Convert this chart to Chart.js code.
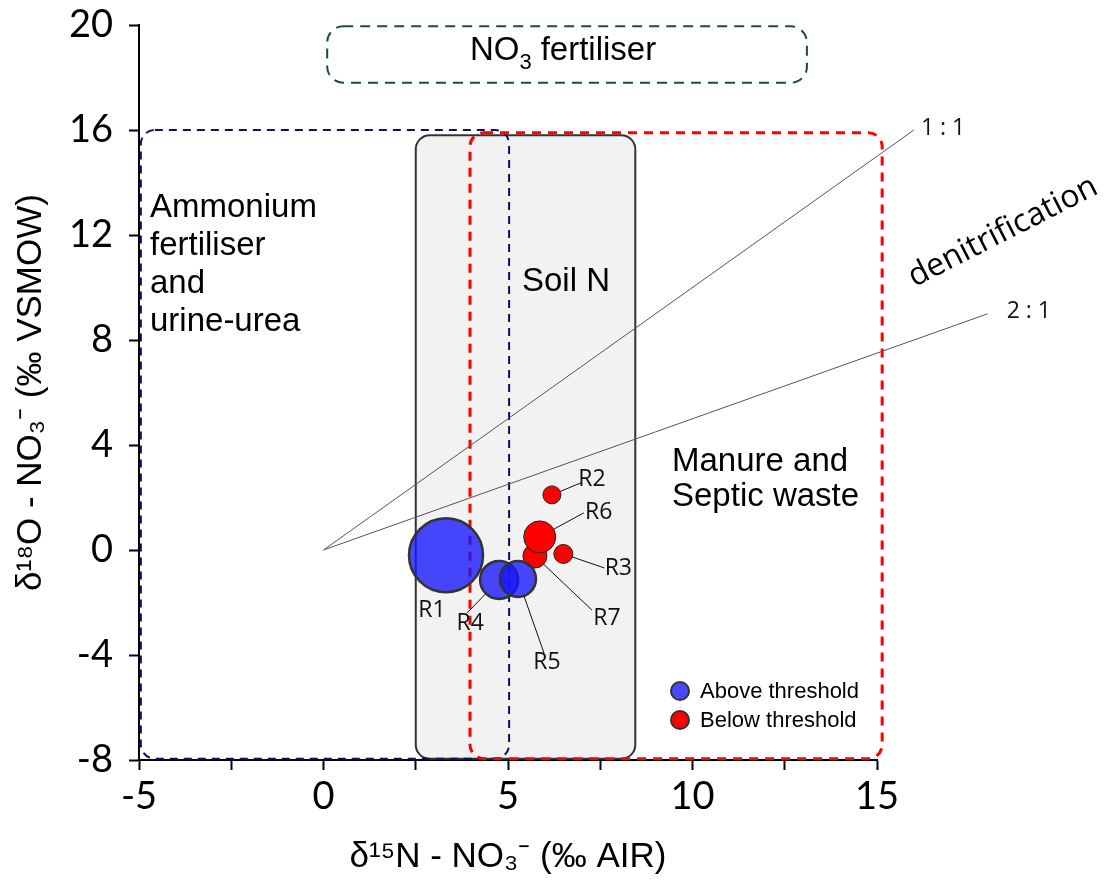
<!DOCTYPE html>
<html>
<head>
<meta charset="utf-8">
<script src="https://cdn.jsdelivr.net/npm/chart.js@4.4.1/dist/chart.umd.min.js"></script>
<style>
  html, body { margin: 0; padding: 0; background: #fff; }
</style>
</head>
<body>
<canvas id="chart" width="1105" height="884"></canvas>
<script>
// sample points (d15N, d18O) and bubble size
const aboveNames = ['R1', 'R4', 'R5'];
const aboveN = [3.32, 4.76, 5.27];
const aboveO = [-0.2, -1.14, -1.1];
const aboveSize = [37, 19, 18];

const belowNames = ['R2', 'R3', 'R7', 'R6'];
const belowN = [6.19, 6.5, 5.73, 5.86];
const belowO = [2.1, -0.15, -0.23, 0.5];
const belowSize = [9, 9.5, 12, 16];

// denitrification slopes
const slopeNames = ['1 : 1', '2 : 1'];
const slopeEndN = [16, 18];
const slopeEndO = [16, 9];

const xTicks = [-5, 0, 5, 10, 15];
const yTicks = [-8, -4, 0, 4, 8, 12, 16, 20];

// source fields, in axis units: [xMin, xMax, yMin, yMax]
const soilBox = [2.5, 8.45, -7.95, 15.8];
const ammoniumBox = [-4.95, 5.03, -7.95, 16];
const manureBox = [3.97, 15.14, -7.95, 15.9];
const no3Box = [0.1, 13.1, 17.8, 19.95];

// label placement around each bubble (pixel offset of text, offset of leader end or null)
const labelPlace = {
  R1: { text: [-14, 55], lead: null },
  R4: { text: [-29, 44], lead: [-32, 33] },
  R5: { text: [29, 84], lead: [26, 74] },
  R7: { text: [72, 62], lead: [57, 54] },
  R3: { text: [55, 15], lead: [41, 14] },
  R6: { text: [59, -24], lead: [44, -24] },
  R2: { text: [40, -15], lead: [29, -12] }
};

function toPoints(xs, ys, rs, names) {
  return xs.map((v, i) => ({ x: v, y: ys[i], r: rs[i], name: names[i] }));
}

function box(ctx, x, y, b, r) {
  const x0 = x.getPixelForValue(b[0]), x1 = x.getPixelForValue(b[1]);
  const y0 = y.getPixelForValue(b[3]), y1 = y.getPixelForValue(b[2]);
  ctx.beginPath();
  ctx.roundRect(x0, y0, x1 - x0, y1 - y0, r);
}

const regions = {
  id: 'regions',
  beforeDatasetsDraw(chart) {
    const { ctx, scales: { x, y } } = chart;
    ctx.save();
    // Soil N
    box(ctx, x, y, soilBox, 14);
    ctx.fillStyle = '#f2f2f2';
    ctx.fill();
    ctx.lineWidth = 2;
    ctx.strokeStyle = '#333';
    ctx.stroke();
    // Ammonium fertiliser
    ctx.setLineDash([8, 6]);
    box(ctx, x, y, ammoniumBox, 14);
    ctx.strokeStyle = '#0d0d6b';
    ctx.lineWidth = 2;
    ctx.stroke();
    // Manure
    ctx.setLineDash([9, 7]);
    box(ctx, x, y, manureBox, 14);
    ctx.strokeStyle = '#ff0000';
    ctx.lineWidth = 3;
    ctx.stroke();
    // NO3 fertiliser
    ctx.setLineDash([10, 7]);
    box(ctx, x, y, no3Box, 16);
    ctx.strokeStyle = '#1e4a46';
    ctx.lineWidth = 2;
    ctx.stroke();
    ctx.setLineDash([]);

    // slope lines
    ctx.strokeStyle = '#555';
    ctx.lineWidth = 1;
    ctx.fillStyle = '#111';
    ctx.font = '23px "Open Sans"';
    ctx.textBaseline = 'middle';
    ctx.textAlign = 'left';
    slopeNames.forEach((s, i) => {
      const ex = x.getPixelForValue(slopeEndN[i]), ey = y.getPixelForValue(slopeEndO[i]);
      ctx.beginPath();
      ctx.moveTo(x.getPixelForValue(0), y.getPixelForValue(0));
      ctx.lineTo(ex, ey);
      ctx.stroke();
      ctx.fillText(s, ex + (i === 0 ? 7 : 19), ey - 2);
    });

    // region texts
    ctx.fillStyle = '#000';
    ctx.font = '33px "Liberation Sans"';
    ctx.textBaseline = 'middle';
    ['Ammonium', 'fertiliser', 'and', 'urine-urea'].forEach((t, i) => {
      ctx.fillText(t, 150, 208 + i * 38);
    });
    ctx.fillText('Soil N', 522, 282);
    ctx.fillText('Manure and', 672, 462);
    ctx.fillText('Septic waste', 672, 497);

    ctx.font = '33px "Liberation Sans"';
    ctx.fillText('NO', 470, 51);
    const w = ctx.measureText('NO').width;
    ctx.font = '22px "Liberation Sans"';
    ctx.fillText('3', 470 + w, 63);
    ctx.font = '33px "Liberation Sans"';
    ctx.fillText(' fertiliser', 470 + w + 12, 51);

    ctx.save();
    ctx.translate(1003, 232);
    ctx.rotate(-27 * Math.PI / 180);
    ctx.textAlign = 'center';
    ctx.font = '32px "Open Sans"';
    ctx.fillText('denitrification', 0, 0);
    ctx.restore();
    ctx.restore();
  },
  afterDatasetsDraw(chart) {
    const { ctx } = chart;
    ctx.save();
    ctx.font = '23px "Open Sans"';
    ctx.fillStyle = '#111';
    ctx.strokeStyle = '#111';
    ctx.lineWidth = 1;
    ctx.textAlign = 'center';
    ctx.textBaseline = 'middle';
    chart.data.datasets.forEach((ds, di) => {
      chart.getDatasetMeta(di).data.forEach((el, i) => {
        const p = ds.data[i];
        const place = labelPlace[p.name];
        if (place.lead) {
          const dx = place.lead[0], dy = place.lead[1];
          const len = Math.hypot(dx, dy);
          ctx.beginPath();
          ctx.moveTo(el.x + dx / len * p.r, el.y + dy / len * p.r);
          ctx.lineTo(el.x + dx, el.y + dy);
          ctx.stroke();
        }
        ctx.fillText(p.name, el.x + place.text[0], el.y + place.text[1]);
      });
    });

    // legend
    ctx.textAlign = 'left';
    ctx.font = '22px "Liberation Sans"';
    chart.data.datasets.forEach((ds, di) => {
      const cy = 691 + di * 29;
      ctx.beginPath();
      ctx.arc(680, cy, 9, 0, Math.PI * 2);
      ctx.fillStyle = ds.backgroundColor;
      ctx.fill();
      ctx.strokeStyle = '#333';
      ctx.lineWidth = 2;
      ctx.stroke();
      ctx.fillStyle = '#000';
      ctx.fillText(ds.label, 700, cy + 1);
    });
    ctx.restore();
  }
};

const tickFont = { family: 'Lato', size: 38 };
const titleFont = { family: 'Liberation Sans', size: 35 };

new Chart(document.getElementById('chart'), {
  type: 'bubble',
  data: {
    datasets: [
      {
        label: 'Above threshold',
        data: toPoints(aboveN, aboveO, aboveSize, aboveNames),
        backgroundColor: 'rgba(20, 20, 255, 0.78)',
        borderColor: '#333',
        borderWidth: 2.5
      },
      {
        label: 'Below threshold',
        data: toPoints(belowN, belowO, belowSize, belowNames),
        backgroundColor: '#ff0000',
        borderColor: '#222',
        borderWidth: 1
      }
    ]
  },
  options: {
    responsive: false,
    animation: false,
    layout: { autoPadding: false, padding: { left: 4, right: 228, top: 25, bottom: 6 } },
    plugins: {
      legend: { display: false },
      tooltip: { enabled: false }
    },
    scales: {
      x: {
        type: 'linear',
        min: -5,
        max: 15,
        afterFit: s => {
          s.height = 118;
          s.paddingLeft = 0;
          s.paddingRight = 0;
        },
        ticks: {
          stepSize: 2.5,
          color: '#000',
          font: tickFont,
          padding: 4,
          callback: v => (xTicks.includes(v) ? String(v) : '')
        },
        grid: { drawOnChartArea: false, color: '#000', tickLength: 10, tickWidth: 2 },
        border: { color: '#000', width: 2 },
        title: {
          display: true,
          text: 'δ¹⁵N - NO₃⁻ (‰ AIR)',
          color: '#000',
          font: titleFont,
          padding: { top: 4, bottom: 0 }
        }
      },
      y: {
        type: 'linear',
        min: -8,
        max: 20,
        afterFit: s => {
          s.width = 135;
          s.paddingTop = 0;
          s.paddingBottom = 0;
        },
        afterBuildTicks: s => { s.ticks = yTicks.map(v => ({ value: v })); },
        ticks: { color: '#000', font: tickFont, padding: 16 },
        grid: { drawOnChartArea: false, color: '#000', tickLength: 10, tickWidth: 2 },
        border: { color: '#000', width: 2 },
        title: {
          display: true,
          text: 'δ¹⁸O - NO₃⁻ (‰ VSMOW)',
          color: '#000',
          font: titleFont,
          padding: { top: 6, bottom: 4 }
        }
      }
    }
  },
  plugins: [regions]
});
</script>
</body>
</html>
